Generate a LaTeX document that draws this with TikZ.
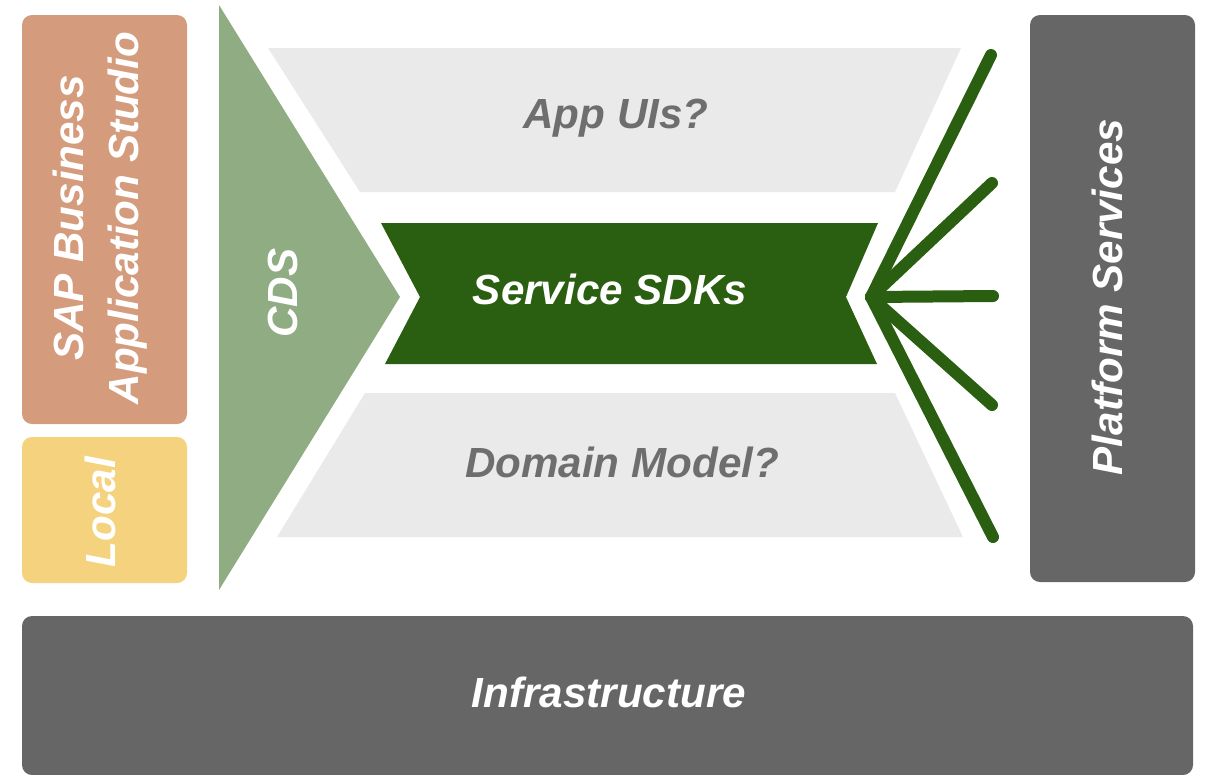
\documentclass[tikz,border=0pt]{standalone}
\usepackage{fontspec}
\setmainfont{Liberation Sans}
\definecolor{sapsalmon}{HTML}{D49C7C}
\definecolor{localyellow}{HTML}{F5D27E}
\definecolor{cdsgreen}{HTML}{8FAC82}
\definecolor{sdkgreen}{HTML}{2A5E10}
\definecolor{paleband}{HTML}{EAEAEA}
\definecolor{slate}{HTML}{666666}
\definecolor{txtgray}{HTML}{6E6E6E}
\begin{document}
\begin{tikzpicture}[x=0.02cm,y=-0.02cm,
  lbl/.style={font=\bfseries\itshape\fontsize{24}{31}\selectfont, text=white, inner sep=0pt, align=center},
  graylbl/.style={lbl, text=txtgray},
  boxr/.style={rounded corners=0.2cm},
  ray/.style={draw=sdkgreen, line width=0.24cm, line cap=round, line join=round}]
\useasboundingbox (0,0) rectangle (1205,775);
% side and bottom boxes
\fill[sapsalmon, boxr] (22,15) rectangle (187,424);
\fill[localyellow, boxr] (22,437) rectangle (187,583);
\fill[slate, boxr] (1030,15) rectangle (1195,582);
\fill[slate, boxr] (22,616) rectangle (1193,775);
% CDS triangle
\fill[cdsgreen] (219,5) -- (400,297) -- (219,590) -- cycle;
% bands
\fill[paleband] (268,48) -- (961,48) -- (895,192) -- (360,192) -- cycle;
\fill[sdkgreen] (381,223) -- (878,223) -- (846,297) -- (877,364) -- (385,364) -- (420,297) -- cycle;
\fill[paleband] (365,393) -- (895,393) -- (963,537) -- (277,537) -- cycle;
% rays
\coordinate (hub) at (871,297);
\coordinate (r1) at (991,55);
\coordinate (r2) at (992,183);
\coordinate (r3) at (993,296);
\coordinate (r4) at (992,405);
\coordinate (r5) at (993,537);
\foreach \r in {r1,r2,r3,r4,r5} \draw[ray] (hub) -- (\r);
% labels
\node[lbl, rotate=90] (sap) at (100,218) {SAP Business\\Application Studio};
\node[lbl, rotate=90] (local) at (100,512) {Local};
\node[lbl, rotate=90] (cds) at (283,293) {CDS};
\node[lbl, rotate=90] (plat) at (1107,297) {Platform Services};
\node[graylbl] (app) at (616,118) {App UIs?};
\node[lbl] (sdk) at (610,289) {Service SDKs};
\node[graylbl] (dom) at (622,462) {Domain Model?};
\node[lbl] (infra) at (609,692) {Infrastructure};
\end{tikzpicture}
\end{document}
